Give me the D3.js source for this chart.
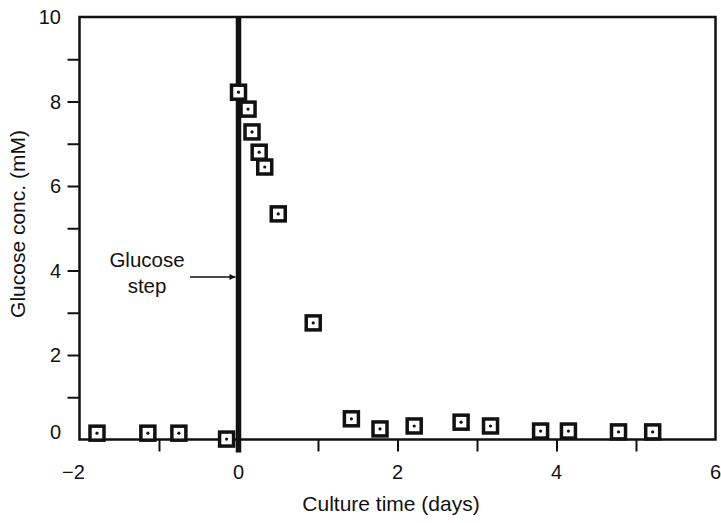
<!DOCTYPE html>
<html><head><meta charset="utf-8">
<script src="https://cdn.jsdelivr.net/npm/d3@7"></script>
<style>body{margin:0;background:#fff}svg{display:block}text{font-family:"Liberation Sans",Arial,sans-serif;fill:#111}</style>
</head><body>
<script>
const days    = [-1.78,-1.14,-0.75,-0.15,0.0,0.12,0.17,0.26,0.33,0.50,0.94,1.42,1.78,2.21,2.80,3.17,3.80,4.15,4.78,5.21];
const glucose = [0.15,0.15,0.15,0.01,8.22,7.82,7.28,6.80,6.45,5.34,2.76,0.49,0.25,0.32,0.41,0.32,0.20,0.20,0.18,0.18];
const xTicks = [-1,0,1,2,3,4,5];
const xLabels = [-2,0,2,4,6];
const yTicks = [1,2,3,4,5,6,7,8,9];
const yLabels = [0,2,4,6,8,10];
const stepDay = 0;

const W=721,H=523;
const svg=d3.select("body").append("svg").attr("width",W).attr("height",H);
const x=d3.scaleLinear().domain([-2,6]).range([79.5,715.5]);
const y=d3.scaleLinear().domain([0,10]).range([439.5,17]);
const ink="#111";

// ticks
const gx=svg.append("g").attr("transform",`translate(0,${y(0)})`)
  .call(d3.axisBottom(x).tickValues(xTicks).tickSize(12).tickFormat(""));
gx.select(".domain").remove();
gx.selectAll("line").attr("stroke",ink).attr("stroke-width",2);
const gy=svg.append("g").attr("transform",`translate(${x(-2)},0)`)
  .call(d3.axisLeft(y).tickValues(yTicks).tickSize(12).tickFormat(""));
gy.select(".domain").remove();
gy.selectAll("line").attr("stroke",ink).attr("stroke-width",2);

// labels
svg.selectAll(".xl").data(xLabels).enter().append("text")
  .attr("x",d=>x(d)+(d<0?-6:0)).attr("y",479).attr("text-anchor","middle")
  .attr("font-size",20).text(d=>d<0?"\u2212"+Math.abs(d):d);
svg.selectAll(".yl").data(yLabels).enter().append("text")
  .attr("x",61).attr("y",d=>y(d)+7-(d===0?8:0)).attr("text-anchor","end")
  .attr("font-size",20).text(d=>d);

// frame
svg.append("rect").attr("x",x(-2)).attr("y",y(10)).attr("width",x(6)-x(-2)).attr("height",y(0)-y(10))
  .attr("fill","none").attr("stroke",ink).attr("stroke-width",2.5);

// glucose step line
svg.append("line").attr("x1",x(stepDay)).attr("x2",x(stepDay)).attr("y1",y(10)).attr("y2",y(0)+13)
  .attr("stroke",ink).attr("stroke-width",5.5);

// annotation
svg.append("text").attr("x",147).attr("y",267).attr("text-anchor","middle").attr("font-size",20.5).text("Glucose");
svg.append("text").attr("x",147).attr("y",293).attr("text-anchor","middle").attr("font-size",20.5).text("step");
svg.append("defs").append("marker").attr("id","ah").attr("viewBox","0 0 10 10").attr("refX",10).attr("refY",5)
  .attr("markerWidth",10).attr("markerHeight",6).attr("markerUnits","userSpaceOnUse").attr("orient","auto")
  .append("path").attr("d","M0,0L10,5L0,10z").attr("fill",ink);
svg.append("line").attr("x1",190).attr("x2",x(stepDay)-3).attr("y1",277).attr("y2",277)
  .attr("stroke",ink).attr("stroke-width",1.3).attr("marker-end","url(#ah)");

// points
const pts=svg.append("g");
const s=14;
days.forEach((d,i)=>{
  pts.append("rect").attr("x",x(d)-s/2).attr("y",y(glucose[i])-s/2).attr("width",s).attr("height",s)
    .attr("fill","#fff").attr("stroke",ink).attr("stroke-width",3.5);
  pts.append("circle").attr("cx",x(d)).attr("cy",y(glucose[i])).attr("r",1.6).attr("fill",ink);
});

// axis titles
svg.append("text").attr("x",391).attr("y",511).attr("text-anchor","middle").attr("font-size",21).text("Culture time (days)");
svg.append("text").attr("transform","translate(25,224) rotate(-90)").attr("text-anchor","middle").attr("font-size",21).text("Glucose conc. (mM)");
</script>
</body></html>
